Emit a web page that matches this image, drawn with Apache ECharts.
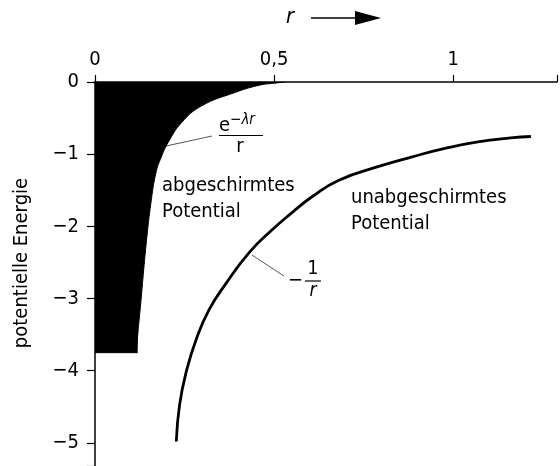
<!DOCTYPE html>
<html>
<head>
<meta charset="utf-8">
<script src="https://cdn.jsdelivr.net/npm/echarts@6/dist/echarts.min.js"></script>
<style>
  html, body { margin: 0; padding: 0; background: #fff; }
  #chart { width: 560px; height: 466px; }
</style>
</head>
<body>
<div id="chart"></div>
<script>
// abgeschirmtes Potential e^(-lambda r)/r (Rand der schwarzen Flaeche)
const screenedR = [0.116, 0.119, 0.128, 0.136, 0.145, 0.156, 0.170, 0.185, 0.204, 0.242, 0.298, 0.390, 0.458, 0.506, 0.530]
const screenedV = [-3.75, -3.52, -3.05, -2.60, -2.14, -1.68, -1.26, -1.04, -0.84, -0.56, -0.33, -0.147, -0.045, -0.014, 0]
// Sockel links der Kurve
const baseR = [0, 0.119]
const baseV = [-3.75, -3.75]
// unabgeschirmtes Potential -1/r
const coulombR = [0.227, 0.236, 0.255, 0.283, 0.319, 0.366, 0.431, 0.494, 0.550, 0.606, 0.681, 0.792, 0.883, 0.977, 1.069, 1.161, 1.217]
const coulombV = [-4.98, -4.48, -4.01, -3.56, -3.15, -2.79, -2.36, -2.05, -1.81, -1.59, -1.36, -1.17, -1.04, -0.92, -0.83, -0.775, -0.755]
const xTicks = [0, 0.5, 1]
const yTicks = [0, -1, -2, -3, -4, -5]

const font = '"DejaVu Sans Condensed", "DejaVu Sans", sans-serif'
const pair = (xs, ys) => xs.map((x, i) => [x, ys[i]])

const option = {
  animation: false,
  grid: { left: 95, top: 82, right: -2, bottom: -2 },
  xAxis: {
    type: 'value',
    position: 'top',
    min: 0,
    max: 1.29,
    interval: 0.5,
    axisLine: { lineStyle: { color: '#000', width: 1.5 } },
    axisTick: { length: 7, lineStyle: { color: '#000', width: 1.2 } },
    splitLine: { show: false },
    axisLabel: {
      margin: 12,
      color: '#000',
      fontFamily: font,
      fontSize: 20,
      formatter: v => xTicks.includes(v) ? String(v).replace('.', ',') : ''
    }
  },
  yAxis: {
    type: 'value',
    min: -5.32,
    max: 0,
    axisLine: { lineStyle: { color: '#000', width: 1.5 } },
    axisTick: { length: 8, lineStyle: { color: '#000', width: 1.2 } },
    splitLine: { show: false },
    axisLabel: {
      margin: 16,
      color: '#000',
      fontFamily: font,
      fontSize: 20,
      formatter: v => yTicks.includes(v) ? (v < 0 ? '\u2212' + (-v) : '0') : ''
    }
  },
  series: [
    {
      type: 'line',
      data: pair(baseR, baseV),
      symbol: 'none',
      lineStyle: { color: '#000', width: 1 },
      areaStyle: { color: '#000', opacity: 1 }
    },
    {
      type: 'line',
      data: pair(screenedR, screenedV),
      symbol: 'none',
      smooth: 0.45,
      lineStyle: { color: '#000', width: 1 },
      areaStyle: { color: '#000', opacity: 1 }
    },
    {
      type: 'line',
      data: pair(coulombR, coulombV),
      symbol: 'none',
      smooth: 0.5,
      lineStyle: { color: '#000', width: 2.8 }
    }
  ],
  graphic: [
    // r -->
    { type: 'text', left: 286, top: 6, style: { text: 'r', font: 'italic 22px ' + font, fill: '#000' } },
    { type: 'line', shape: { x1: 311, y1: 18, x2: 358, y2: 18 }, style: { stroke: '#000', lineWidth: 1.5 } },
    { type: 'polygon', shape: { points: [[355, 11], [381, 18], [355, 25]] }, style: { fill: '#000' } },
    // y-Achsentitel
    { type: 'text', x: 22, y: 263, rotation: Math.PI / 2,
      style: { text: 'potentielle Energie', font: '20px ' + font, fill: '#000', align: 'center', verticalAlign: 'middle' } },
    // Beschriftungen
    { type: 'text', x: 162, y: 173,
      style: { text: 'abgeschirmtes\nPotential', font: '20px ' + font, lineHeight: 26, fill: '#000' } },
    { type: 'text', x: 351, y: 185,
      style: { text: 'unabgeschirmtes\nPotential', font: '20px ' + font, lineHeight: 26, fill: '#000' } },
    // e^-lambda r / r
    { type: 'text', x: 219, y: 113,
      style: { text: '{e|e}{s|\u2212\u03bbr}', fill: '#000',
        rich: { e: { font: '20px ' + font, verticalAlign: 'bottom' },
                s: { font: 'italic 15px ' + font, verticalAlign: 'top', padding: [0, 0, 8, 0] } } } },
    { type: 'line', shape: { x1: 219, y1: 135.5, x2: 263, y2: 135.5 }, style: { stroke: '#000', lineWidth: 1.2 } },
    { type: 'text', x: 240, y: 137, style: { text: 'r', font: '20px ' + font, fill: '#000', align: 'center' } },
    { type: 'line', shape: { x1: 166, y1: 146, x2: 212, y2: 136 }, style: { stroke: '#555', lineWidth: 1 } },
    // -1/r
    { type: 'text', x: 288, y: 281, style: { text: '\u2212', font: '20px ' + font, fill: '#000', verticalAlign: 'middle' } },
    { type: 'line', shape: { x1: 305, y1: 281, x2: 321, y2: 281 }, style: { stroke: '#000', lineWidth: 1.2 } },
    { type: 'text', x: 313, y: 279, style: { text: '1', font: '19px ' + font, fill: '#000', align: 'center', verticalAlign: 'bottom' } },
    { type: 'text', x: 313, y: 282, style: { text: 'r', font: 'italic 19px ' + font, fill: '#000', align: 'center', verticalAlign: 'top' } },
    { type: 'line', shape: { x1: 252, y1: 255, x2: 284, y2: 276 }, style: { stroke: '#555', lineWidth: 1 } }
  ]
}

const chart = echarts.init(document.getElementById('chart'))
chart.setOption(option)
</script>
</body>
</html>
